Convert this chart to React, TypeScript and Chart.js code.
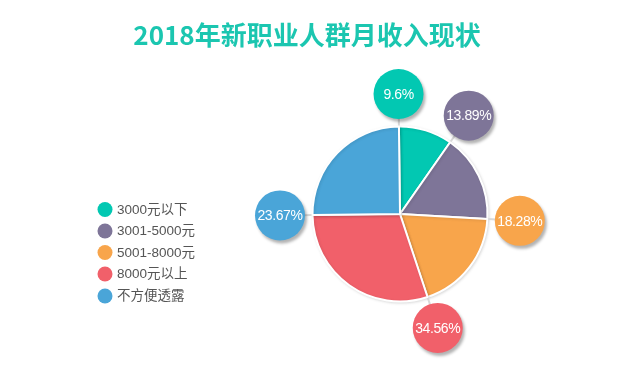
import React, { useEffect, useRef } from "react";
import { Chart, registerables } from "chart.js";

Chart.register(...registerables);

const titleText = "2018年新职业人群月收入现状";
const categories = ["3000元以下", "3001-5000元", "5001-8000元", "8000元以上", "不方便透露"];
// slice sizes as drawn in the picture
const sliceValues = [9.9, 16.2, 19.0, 29.9, 25.0];
// percentages printed in the bubbles
const labelValues = [9.6, 13.89, 18.28, 34.56, 23.67];
const colors = ["#02C8B2", "#7E7598", "#F8A54B", "#F1606A", "#4AA5D8"];

const decorPlugin = {
  id: "decor",
  beforeDatasetsDraw(chart: any) {
    const ctx = chart.ctx;
    ctx.save();
    ctx.shadowColor = "rgba(0,0,0,0.12)";
    ctx.shadowBlur = 3;
    ctx.shadowOffsetX = 1;
    ctx.shadowOffsetY = 1;
  },
  afterDatasetsDraw(chart: any) {
    const ctx = chart.ctx;
    ctx.restore();
    const meta = chart.getDatasetMeta(0);
    const bubbleDist = 120;
    const bubbleR = 25;
    meta.data.forEach((arc: any, i: number) => {
      const { x, y, startAngle, outerRadius } = arc.getProps(["x", "y", "startAngle", "outerRadius"], true);
      const cos = Math.cos(startAngle);
      const sin = Math.sin(startAngle);
      ctx.save();
      ctx.strokeStyle = "#d9d9d9";
      ctx.lineWidth = 2;
      ctx.beginPath();
      ctx.moveTo(x + cos * (outerRadius + 1), y + sin * (outerRadius + 1));
      ctx.lineTo(x + cos * (bubbleDist - bubbleR + 1), y + sin * (bubbleDist - bubbleR + 1));
      ctx.stroke();
      ctx.restore();
      const bx = x + cos * bubbleDist;
      const by = y + sin * bubbleDist;
      ctx.save();
      ctx.shadowColor = "rgba(0,0,0,0.3)";
      ctx.shadowBlur = 3;
      ctx.shadowOffsetX = 2;
      ctx.shadowOffsetY = 3;
      ctx.fillStyle = colors[i];
      ctx.beginPath();
      ctx.arc(bx, by, bubbleR, 0, Math.PI * 2);
      ctx.fill();
      ctx.restore();
      ctx.save();
      ctx.fillStyle = "#ffffff";
      ctx.font = "14px 'Liberation Sans', Arial, sans-serif";
      (ctx as any).letterSpacing = "-0.4px";
      ctx.textAlign = "center";
      ctx.textBaseline = "middle";
      ctx.fillText(labelValues[i] + "%", bx, by + 1);
      ctx.restore();
    });
  },
  afterDraw(chart: any) {
    const ctx = chart.ctx;
    ctx.save();
    ctx.fillStyle = "#1BC6B0";
    ctx.font = "bold 26px 'Noto Sans CJK SC', sans-serif";
    ctx.textAlign = "center";
    ctx.textBaseline = "middle";
    ctx.fillText(titleText, 307, 35);
    ctx.restore();
    const labels: string[] = chart.data.labels;
    const ys = [209.5, 231, 252.5, 274, 296];
    labels.forEach((lab, i) => {
      ctx.save();
      ctx.fillStyle = colors[i];
      ctx.beginPath();
      ctx.arc(105, ys[i], 7.5, 0, Math.PI * 2);
      ctx.fill();
      ctx.fillStyle = "#555555";
      ctx.font = "13.5px 'Liberation Sans', 'Noto Sans CJK SC', sans-serif";
      ctx.textAlign = "left";
      ctx.textBaseline = "middle";
      ctx.fillText(lab, 117, ys[i] + 0.5);
      ctx.restore();
    });
  },
};

export default function App() {
  const ref = useRef<HTMLCanvasElement | null>(null);
  useEffect(() => {
    document.body.style.margin = "0";
    const chart = new Chart(ref.current as HTMLCanvasElement, {
      type: "pie",
      data: {
        labels: categories,
        datasets: [
          {
            data: sliceValues,
            backgroundColor: colors,
            borderColor: "#ffffff",
            borderWidth: 2,
          },
        ],
      },
      options: {
        animation: false,
        responsive: false,
        rotation: -0.7,
        layout: { padding: { left: 311.5, right: 135.5, top: 125.5, bottom: 66.5 } },
        plugins: {
          legend: { display: false },
          tooltip: { enabled: false },
          title: { display: false },
        },
      },
      plugins: [decorPlugin],
    });
    return () => chart.destroy();
  }, []);
  return <canvas ref={ref} width={624} height={369} style={{ display: "block" }} />;
}
